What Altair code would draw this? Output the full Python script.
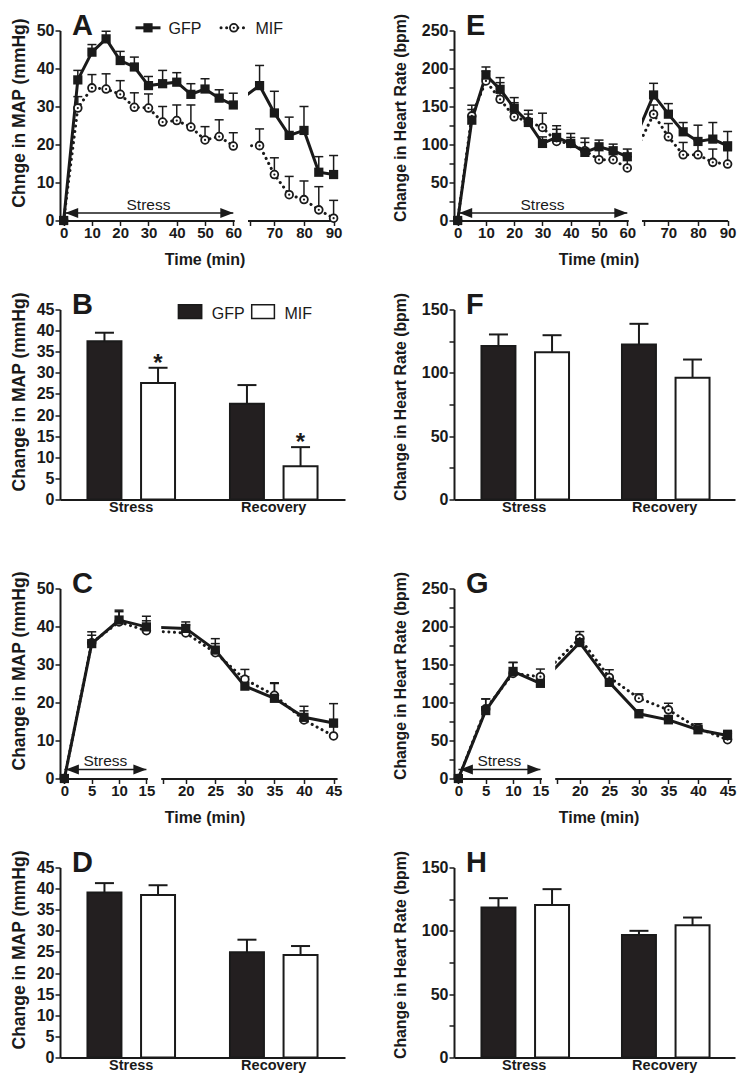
import altair as alt
import pandas as pd

FONT = "Liberation Sans"
INK = "#1a1a1a"
DARK = "#231f20"
H = 190

# ---------------- data ----------------
series = ["GFP", "MIF"]
phases = ["Stress", "Recovery"]

# Panels A / E (0-90 min)
t_long = [0, 5, 10, 15, 20, 25, 30, 35, 40, 45, 50, 55, 60, 65, 70, 75, 80, 85, 90]
a_gfp = [0, 37.0, 44.3, 47.8, 42.1, 40.4, 35.5, 36.0, 36.4, 33.2, 34.6, 32.2, 30.4, 35.5, 28.3, 22.4, 23.7, 12.7, 12.1]
a_gfp_sem = [0, 2.5, 2.0, 2.0, 2.4, 2.6, 2.4, 3.5, 2.5, 2.8, 2.7, 2.2, 3.1, 5.3, 5.7, 4.8, 6.3, 4.1, 5.0]
a_mif = [0, 29.6, 34.9, 34.6, 33.2, 29.8, 29.6, 25.9, 26.3, 24.6, 21.2, 22.1, 19.6, 19.7, 12.1, 6.8, 5.5, 2.8, 0.6]
a_mif_sem = [0, 3.0, 3.5, 4.0, 3.6, 3.8, 3.7, 4.1, 4.1, 5.8, 3.5, 4.4, 3.5, 4.4, 4.4, 4.8, 4.9, 6.1, 4.7]

e_gfp = [0, 132.0, 191.4, 172.6, 147.7, 129.0, 101.4, 109.3, 101.4, 89.6, 97.0, 91.8, 83.9, 165.2, 139.9, 116.7, 104.0, 107.1, 98.3]
e_gfp_sem = [0, 14.0, 10.6, 15.4, 14.0, 16.0, 8.6, 15.4, 13.1, 18.8, 8.8, 8.7, 10.1, 15.3, 13.9, 12.2, 21.4, 21.8, 18.8]
e_mif = [0, 137.7, 183.6, 159.5, 136.4, 130.2, 122.4, 104.0, 101.4, 91.8, 80.0, 80.0, 69.1, 139.9, 110.1, 86.5, 86.5, 76.5, 74.3]
e_mif_sem = [0, 14.0, 13.1, 21.9, 18.6, 9.8, 18.8, 16.0, 7.9, 10.9, 16.2, 9.6, 14.8, 12.1, 17.5, 16.2, 18.4, 17.5, 17.5]

# Panels C / G (0-45 min)
t_short = [0, 5, 10, 15, 20, 25, 30, 35, 40, 45]
c_gfp = [0, 35.5, 41.7, 39.9, 39.5, 33.8, 24.3, 21.1, 16.1, 14.6]
c_gfp_sem = [0, 3.1, 2.6, 2.8, 1.7, 3.0, 2.5, 3.9, 2.9, 5.1]
c_mif = [0, 35.7, 41.2, 38.9, 38.3, 33.1, 26.1, 21.9, 15.4, 11.2]
c_mif_sem = [0, 2.0, 2.7, 2.6, 2.1, 2.4, 2.6, 3.3, 2.4, 2.4]

g_gfp = [0, 89.4, 140.9, 125.2, 178.9, 126.5, 85.1, 77.2, 64.1, 56.7]
g_gfp_sem = [0, 15.3, 11.8, 5.8, 7.0, 6.5, 5.2, 5.7, 5.7, 6.6]
g_mif = [0, 91.6, 138.3, 133.9, 184.6, 133.0, 105.6, 90.3, 66.3, 51.0]
g_mif_sem = [0, 13.1, 14.4, 10.1, 8.7, 10.1, 5.7, 8.7, 5.7, 7.9]

# Bar panels (Stress, Recovery)
b_gfp = [37.5, 22.7]
b_gfp_sem = [2.0, 4.4]
b_mif = [27.6, 7.9]
b_mif_sem = [3.6, 4.5]
b_mif_star = [True, True]

f_gfp = [121.1, 122.4]
f_gfp_sem = [9.2, 16.3]
f_mif = [116.3, 96.1]
f_mif_sem = [13.4, 14.4]

d_gfp = [39.1, 24.9]
d_gfp_sem = [2.2, 3.0]
d_mif = [38.5, 24.3]
d_mif_sem = [2.3, 2.1]

h_gfp = [118.4, 96.8]
h_gfp_sem = [7.4, 3.2]
h_mif = [120.3, 104.5]
h_mif_sem = [12.6, 6.0]

no_star = [False, False]

# broken time axes (segment 1, gap, segment 2)
long_dom = [-1.3, 60, 61.6, 90]
long_rng = [0, 173.3, 189.5, 273.6]
long_ticks = [0, 10, 20, 30, 40, 50, 60, 61.6, 70, 80, 90]
short_dom = [-0.8, 15, 16.1, 45.6]
short_rng = [0, 86.4, 102.7, 277.1]
short_ticks = [0, 5, 10, 15, 16.1, 20, 25, 30, 35, 40, 45]
stress_long = [0, 60]
stress_short = [0, 15]

HEAD_L = "M-1,0L1,-0.77L1,0.77Z"
HEAD_R = "M1,0L-1,-0.77L-1,0.77Z"


def long_df(t, gfp, gfp_sem, mif, mif_sem):
    frames = []
    for name, vals, sems in ((series[0], gfp, gfp_sem), (series[1], mif, mif_sem)):
        frames.append(pd.DataFrame({"t": t, "v": vals, "sem": sems, "series": name}))
    df = pd.concat(frames, ignore_index=True)
    df["top"] = df["v"] + df["sem"]
    return df


def y_axis(yticks, every, title, tx, tsize, ty):
    return alt.Axis(values=yticks,
                    labelExpr=f"datum.value % {every} === 0 ? datum.label : ''",
                    title=title, titleX=tx, titleY=ty, titleAngle=270,
                    titleAlign="center", titleBaseline="middle", titleFontSize=tsize,
                    labelFontSize=16, labelPadding=1)


def letter_layer(letter):
    return alt.Chart(pd.DataFrame({"label": [letter]})).mark_text(
        font=FONT, fontSize=29, fontWeight="bold", color=INK, align="left",
        baseline="top").encode(text="label:N", x=alt.value(12), y=alt.value(-19))


def line_legend():
    g = pd.DataFrame({"label": [series[0]]})
    m = pd.DataFrame({"label": [series[1]]})
    ly = -2.7
    return [
        alt.Chart(g).mark_rule(color=INK, strokeWidth=3).encode(
            x=alt.value(75.5), x2=alt.value(100.5), y=alt.value(ly)),
        alt.Chart(g).mark_point(shape="square", filled=True, color=INK, size=85, opacity=1).encode(
            x=alt.value(88), y=alt.value(ly)),
        alt.Chart(g).mark_text(font=FONT, fontSize=16, color=INK, align="left", baseline="alphabetic").encode(
            text="label:N", x=alt.value(108.5), y=alt.value(ly + 6)),
        alt.Chart(m).mark_rule(color=INK, strokeWidth=3, strokeDash=[0.1, 5.5], strokeCap="round").encode(
            x=alt.value(161), x2=alt.value(187), y=alt.value(ly)),
        alt.Chart(m).mark_point(shape="circle", filled=True, fill="white", stroke=INK, strokeWidth=1.8,
                                size=60, opacity=1).encode(x=alt.value(173.8), y=alt.value(ly)),
        alt.Chart(m).mark_point(shape="circle", filled=True, color=INK, size=5, opacity=1).encode(
            x=alt.value(173.8), y=alt.value(ly)),
        alt.Chart(m).mark_text(font=FONT, fontSize=16, color=INK, align="left", baseline="alphabetic").encode(
            text="label:N", x=alt.value(195.5), y=alt.value(ly + 6)),
    ]


def bar_legend():
    g = pd.DataFrame({"label": [series[0]]})
    m = pd.DataFrame({"label": [series[1]]})
    return [
        alt.Chart(g).mark_rect(fill=DARK, stroke=INK, strokeWidth=1.5).encode(
            x=alt.value(118.4), x2=alt.value(141.7), y=alt.value(-4.7), y2=alt.value(9)),
        alt.Chart(g).mark_text(font=FONT, fontSize=16, color=INK, align="left", baseline="alphabetic").encode(
            text="label:N", x=alt.value(151.7), y=alt.value(9)),
        alt.Chart(m).mark_rect(fill="white", stroke=INK, strokeWidth=1.5).encode(
            x=alt.value(191.7), x2=alt.value(214.4), y=alt.value(-4.7), y2=alt.value(9)),
        alt.Chart(m).mark_text(font=FONT, fontSize=16, color=INK, align="left", baseline="alphabetic").encode(
            text="label:N", x=alt.value(224.4), y=alt.value(9)),
    ]


def time_panel(letter, t, gfp, gfp_sem, mif, mif_sem, *, xdom, xrng, xticks, ymax, yticks,
               every, ytitle, tx, tsize, ty, stress, arrow_v, legend=False, inner_dot=True):
    df = long_df(t, gfp, gfp_sem, mif, mif_sem)
    hidden = xdom[2]
    xs = alt.Scale(domain=xdom, range=xrng, nice=False, zero=False)
    xa = alt.Axis(values=xticks, labelExpr=f"datum.value === {hidden} ? '' : datum.label",
                  title="Time (min)", titleX=144.5, titleY=38.5, titleAlign="center",
                  titleBaseline="middle", titleFontSize=16, labelFontSize=15, labelPadding=0)
    ys = alt.Scale(domain=[0, ymax], nice=False)
    ya = y_axis(yticks, every, ytitle, tx, tsize, ty)

    def X(f="t"):
        return alt.X(f"{f}:Q", scale=xs, axis=xa)

    def Y(f="v"):
        return alt.Y(f"{f}:Q", scale=ys, axis=ya)

    gsel = f"datum.series === '{series[0]}'"
    msel = f"datum.series === '{series[1]}'"
    base = alt.Chart(df).encode(x=X(), y=Y())
    line_g = base.transform_filter(gsel).mark_line(color=INK, strokeWidth=3)
    line_m = base.transform_filter(msel).mark_line(color=INK, strokeWidth=3,
                                                  strokeDash=[0.1, 5.5], strokeCap="round")
    gap_df = pd.DataFrame({"t": [xdom[1]], "t2": [xdom[2]]})
    gap = alt.Chart(gap_df).mark_rect(color="white", xOffset=1.5, x2Offset=-1.5).encode(
        x=X(), x2="t2:Q", y=alt.value(0), y2=alt.value(H + 3))

    arr = alt.Chart(pd.DataFrame({"t": [stress[0]], "t2": [stress[1]], "v": [arrow_v]}))
    arr_line = arr.mark_rule(color=INK, strokeWidth=1.5).encode(x=X(), x2="t2:Q", y=Y())
    head_l = arr.mark_point(shape=HEAD_L, filled=True, color=INK, size=169, opacity=1,
                            xOffset=8).encode(x=X(), y=Y())
    head_r = arr.mark_point(shape=HEAD_R, filled=True, color=INK, size=169, opacity=1,
                            xOffset=-6.5).encode(x=X("t2"), y=Y())
    lab = arr.transform_calculate(tm="(datum.t + datum.t2) / 2").mark_text(
        text="Stress", font=FONT, fontSize=15.5, color=INK, baseline="alphabetic",
        dy=-3).encode(x=X("tm"), y=Y())

    err = base.transform_filter("datum.sem > 0")
    err_rule = err.mark_rule(color=INK, strokeWidth=1.5).encode(y2="top:Q")
    err_cap = err.mark_rule(color=INK, strokeWidth=1.5, xOffset=-4.5, x2Offset=4.5).encode(
        y=Y("top"), x2="t:Q")

    pts_m = base.transform_filter(msel).mark_point(shape="circle", filled=True, fill="white",
                                                   stroke=INK, strokeWidth=1.8, size=60, opacity=1)
    layers = [line_g, line_m, gap, arr_line, head_l, head_r, lab, err_rule, err_cap, pts_m]
    if inner_dot:
        layers.append(base.transform_filter(msel).mark_point(shape="circle", filled=True,
                                                             color=INK, size=5, opacity=1))
    layers.append(base.transform_filter(gsel).mark_point(shape="square", filled=True,
                                                         color=INK, size=85, opacity=1))
    layers.append(letter_layer(letter))
    if legend:
        layers += line_legend()
    return alt.layer(*layers).properties(width=xrng[-1], height=H)


def bar_panel(letter, gfp, gfp_sem, mif, mif_sem, stars, *, width, ymax, yticks, every,
              ytitle, tx, tsize, ty, legend=False):
    df = pd.concat([
        pd.DataFrame({"cat": phases, "series": series[0], "v": gfp, "sem": gfp_sem, "star": no_star}),
        pd.DataFrame({"cat": phases, "series": series[1], "v": mif, "sem": mif_sem, "star": stars}),
    ], ignore_index=True)
    df["top"] = df["v"] + df["sem"]
    xs = alt.X("cat:N", sort=phases, scale=alt.Scale(paddingInner=0, paddingOuter=0),
               axis=alt.Axis(title=None, ticks=False, tickSize=0, labelAngle=0, labelPadding=1,
                             labelFontSize=14.5))
    xo = alt.XOffset("series:N", sort=series,
                     scale=alt.Scale(paddingInner=0.366, paddingOuter=0.5125))
    ys = alt.Scale(domain=[0, ymax], nice=False)
    ya = y_axis(yticks, every, ytitle, tx, tsize, ty)

    def Y(f="v"):
        return alt.Y(f"{f}:Q", scale=ys, axis=ya)

    base = alt.Chart(df).encode(x=xs, xOffset=xo, y=Y())
    bars = base.mark_bar(stroke=INK, strokeWidth=2).encode(
        fill=alt.Fill("series:N", scale=alt.Scale(domain=series, range=[DARK, "white"]), legend=None))
    err = base.mark_rule(color=INK, strokeWidth=2).encode(y2="top:Q")
    cap = base.mark_tick(color=INK, thickness=2, size=19, orient="horizontal", opacity=1).encode(y=Y("top"))
    star = base.transform_filter("datum.star").mark_text(
        text="*", font=FONT, fontSize=24, fontWeight="bold", color=INK, baseline="alphabetic",
        dy=3).encode(y=Y("top"))
    layers = [bars, err, cap, star, letter_layer(letter)]
    if legend:
        layers += bar_legend()
    return alt.layer(*layers).properties(width=width, height=H)


MAP_T = "Change in MAP (mmHg)"
HR_T = "Change in Heart Rate (bpm)"
map_ticks = list(range(0, 51, 10))
hr_ticks = list(range(0, 251, 25))
bar_map_ticks = list(range(0, 46, 5))
bar_hr_ticks = list(range(0, 151, 25))
L = dict(tx=-40.5, tsize=17.5, ty=H / 2 - 13)
R = dict(tx=-54, tsize=15.8, ty=H / 2 - 8)

A = time_panel("A", t_long, a_gfp, a_gfp_sem, a_mif, a_mif_sem, xdom=long_dom, xrng=long_rng,
               xticks=long_ticks, ymax=50, yticks=map_ticks, every=10, ytitle="Chnge in MAP (mmHg)",
               stress=stress_long, arrow_v=2, legend=True, **L)
E = time_panel("E", t_long, e_gfp, e_gfp_sem, e_mif, e_mif_sem, xdom=long_dom, xrng=long_rng,
               xticks=long_ticks, ymax=250, yticks=hr_ticks, every=50, ytitle=HR_T,
               stress=stress_long, arrow_v=10, **R)
B = bar_panel("B", b_gfp, b_gfp_sem, b_mif, b_mif_sem, b_mif_star, width=285, ymax=45,
              yticks=bar_map_ticks, every=5, ytitle=MAP_T, legend=True, **L)
F = bar_panel("F", f_gfp, f_gfp_sem, f_mif, f_mif_sem, no_star, width=281, ymax=150,
              yticks=bar_hr_ticks, every=50, ytitle=HR_T, **R)
C = time_panel("C", t_short, c_gfp, c_gfp_sem, c_mif, c_mif_sem, xdom=short_dom, xrng=short_rng,
               xticks=short_ticks, ymax=50, yticks=map_ticks, every=10, ytitle=MAP_T,
               stress=stress_short, arrow_v=2.4, inner_dot=False, **L)
G = time_panel("G", t_short, g_gfp, g_gfp_sem, g_mif, g_mif_sem, xdom=short_dom, xrng=short_rng,
               xticks=short_ticks, ymax=250, yticks=hr_ticks, every=50, ytitle=HR_T,
               stress=stress_short, arrow_v=12, **R)
D = bar_panel("D", d_gfp, d_gfp_sem, d_mif, d_mif_sem, no_star, width=285, ymax=45,
              yticks=bar_map_ticks, every=5, ytitle=MAP_T, **L)
Hh = bar_panel("H", h_gfp, h_gfp_sem, h_mif, h_mif_sem, no_star, width=281, ymax=150,
               yticks=bar_hr_ticks, every=50, ytitle=HR_T, **R)

chart = alt.concat(A, E, B, F, C, G, D, Hh, columns=2,
                   spacing={"row": 89, "column": 109}, bounds="flush").properties(
    padding={"left": 2, "top": 3.5, "right": 1, "bottom": 1}
).configure_view(stroke=None).configure_axis(
    grid=False, domainColor=INK, domainWidth=2, tickColor=INK, tickWidth=1.5, tickSize=5,
    labelColor=INK, labelFont=FONT, labelFontWeight="bold", labelFlush=False,
    labelOverlap=False, titleColor=INK, titleFont=FONT, titleFontWeight="bold"
)

chart.save("out.html", embed_options={"renderer": "svg", "actions": False})
